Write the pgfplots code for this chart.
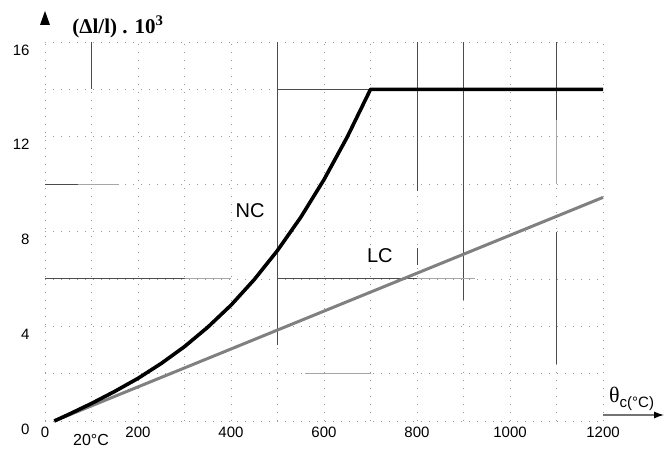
\documentclass[border=0pt]{standalone}
\usepackage{fontspec}
\setmainfont{Liberation Sans}
\newfontfamily\seriffont{Liberation Serif}
\usepackage{pgfplots}
\pgfplotsset{compat=1.18}
\usetikzlibrary{arrows.meta}

\begin{document}
\begin{tikzpicture}[x=1pt,y=1pt]
\useasboundingbox (-45,-27) rectangle (619,421);
\begin{axis}[
  at={(0,0)}, anchor=south west,
  scale only axis, width=558pt, height=379pt,
  xmin=0, xmax=1200, ymin=0, ymax=16,
  clip=false,
  axis line style={draw=none},
  major tick length=0pt, minor tick length=0pt,
  xtick={0,200,...,1200}, ytick={0,4,...,16},
  minor xtick={100,300,...,1100}, minor ytick={2,6,10,14},
  grid=both,
  grid style={black!40, line width=0.6pt, dash pattern=on 1pt off 7pt},
  scaled ticks=false,
  /pgf/number format/assume math mode=true,
  /pgf/number format/set thousands separator={},
  ticklabel style={font=\fontsize{15}{15}\selectfont},
  xticklabel style={yshift=-2pt},
  yticklabel style={anchor=east, xshift=-12pt, yshift=-8pt},
]
% prominent (scanned) grid segments
\draw[black!70, line width=0.8pt] (100,16) -- (100,14);
\draw[black!70, line width=0.8pt] (500,16) -- (500,3.2);
\draw[black!70, line width=0.8pt] (800,16) -- (800,9.7);
\draw[black!70, line width=0.8pt] (800,7.3) -- (800,6.6);
\draw[black!70, line width=0.8pt] (900,16) -- (900,5.1);
\draw[black!70, line width=0.8pt] (1100,16) -- (1100,12.7);
\draw[black!35, line width=1pt] (1100,12.7) -- (1100,10);
\draw[black!70, line width=0.8pt] (1100,8) -- (1100,2.4);
\draw[black!70, line width=0.8pt] (500,14) -- (700,14);
\draw[black!70, line width=0.8pt] (0,10) -- (70,10);
\draw[black!35, line width=1pt] (70,10) -- (160,10);
\draw[black!70, line width=0.8pt] (0,6) -- (300,6);
\draw[black!35, line width=1pt] (300,6) -- (400,6);
\draw[black!70, line width=0.8pt] (500,6) -- (800,6);
\draw[black!35, line width=1pt] (800,6) -- (925,6);
\draw[black!35, line width=1pt] (560,2) -- (700,2);
% LC (lightweight concrete)
\addplot[black!50, line width=3pt] coordinates {(20,0) (1200,9.44)};
% NC (normal concrete)
\addplot[black, line width=3.6pt, line join=round] coordinates {
  (20,0) (50,0.27) (100,0.74) (150,1.25) (200,1.80) (250,2.43)
  (300,3.14) (350,3.96) (400,4.89) (450,5.97) (500,7.20)
  (550,8.60) (600,10.19) (650,11.99) (700,14.0) (1200,14.0)};
\node[font=\fontsize{20}{20}\selectfont] at (441,8.9) {NC};
\node[font=\fontsize{20}{20}\selectfont] at (720,6.97) {LC};
\node[font=\fontsize{16}{16}\selectfont] at (99,-0.8) {20°C};
\end{axis}
% axis arrows
\fill (-5,396) -- (5,396) -- (0,410) -- cycle;
\node[font=\seriffont\bfseries\fontsize{21}{21}\selectfont] at (73,394) {(Δl/l) . 10\textsuperscript{3}};
\draw[black!55, line width=1.2pt, -{Latex[length=10pt,width=7pt,black]}] (558,6) -- (619,6);
\node[anchor=base west, inner sep=0pt] at (564,19)
  {\seriffont\fontsize{22}{22}\selectfont θ\raisebox{-5pt}{\rmfamily\fontsize{15}{15}\selectfont c(°C)}};
\end{tikzpicture}
\end{document}
